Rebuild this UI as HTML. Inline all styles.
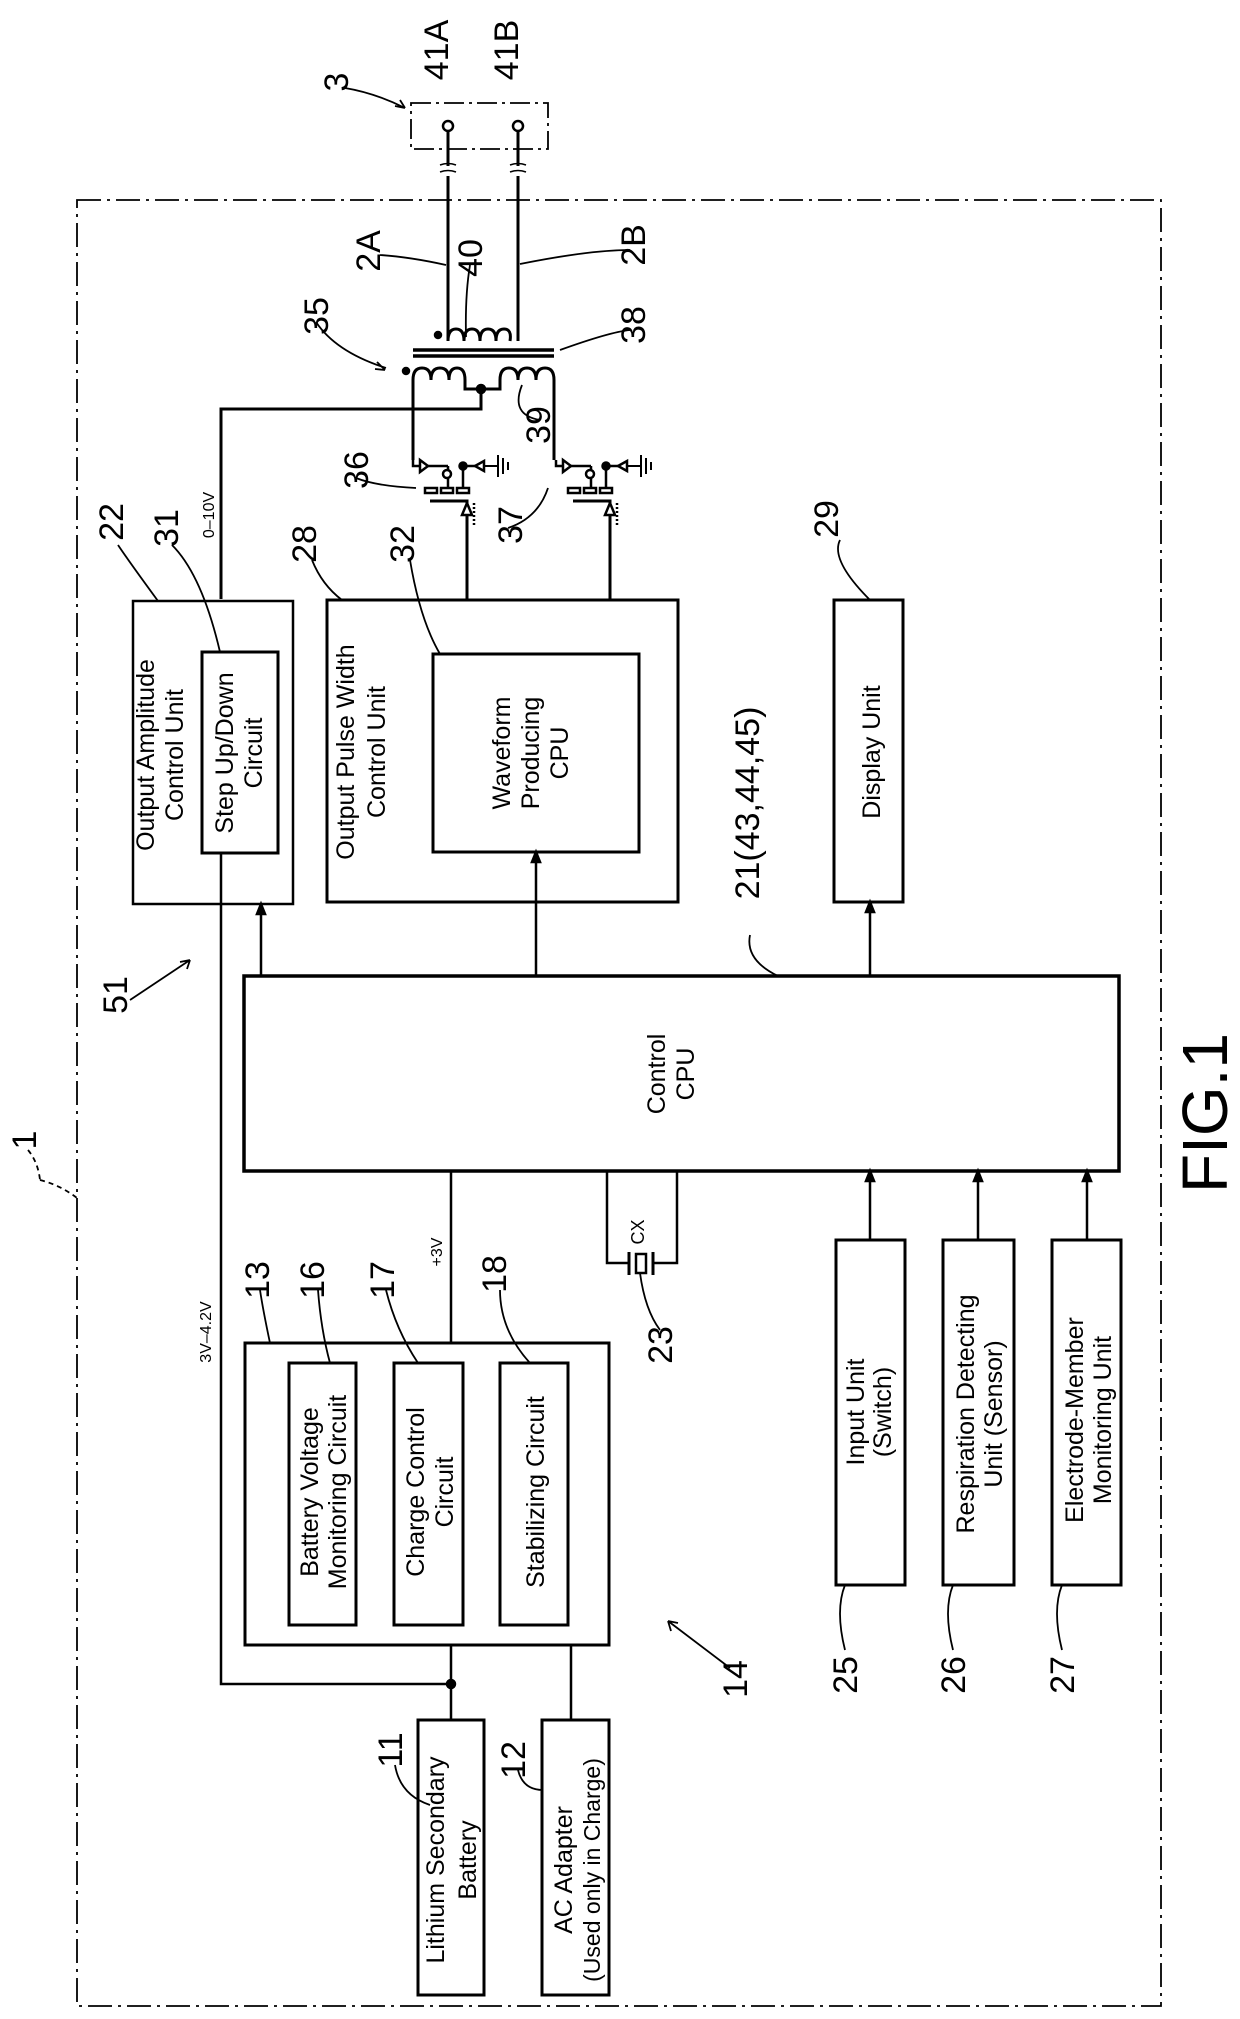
<!DOCTYPE html>
<html><head><meta charset="utf-8"><style>
html,body{margin:0;padding:0;background:#fff}
svg{display:block}
text{font-family:"Liberation Sans",sans-serif;fill:#000}
</style></head><body>
<svg width="1240" height="2019" viewBox="0 0 1240 2019" xmlns="http://www.w3.org/2000/svg">
<g fill="none" stroke="#000" stroke-width="2.5">
<rect x="77" y="200" width="1084" height="1806" stroke-dasharray="24,6,3,6" stroke-width="1.8"/>
<rect x="411" y="103" width="137" height="46" stroke-dasharray="20,5,3,5" stroke-width="1.8"/>
<path d="M345 88q30 5 60 20M405 108l-10-2M405 108l-5-8" stroke-width="1.8"/>
<circle cx="448" cy="126" r="5" fill="#fff"/>
<circle cx="518" cy="126" r="5" fill="#fff"/>
<path d="M448 131V166M448 176V341M518 131V166M518 176V341" stroke-width="3"/>
<path d="M440 165q8 -3 16 0M440 172q8 -3 16 0M510 165q8 -3 16 0M510 172q8 -3 16 0" stroke-width="1.5"/>
<path d="M448 341q0 -12 8 -12 8 0 8 12 0-12 8-12 8 0 8 12 0-12 8-12 8 0 8 12 0-12 8-12 8 0 6 12" stroke-width="3"/>
<line x1="413" y1="350" x2="554" y2="350" stroke-width="3.5"/>
<line x1="413" y1="356" x2="554" y2="356" stroke-width="3.5"/>
<path d="M413 460V380q0-12 9-12 9 0 9 12 0-12 9-12 9 0 9 12 0-12 8-12 8 0 8 12V389H500V380q0-12 9-12 9 0 9 12 0-12 9-12 9 0 9 12 0-12 9-12 9 0 9 12V460" stroke-width="3"/>
<path d="M481 389V409H221V599" stroke-width="3"/>
<circle cx="481" cy="389" r="4" fill="#000"/>
<circle cx="406" cy="371" r="3" fill="#000"/>
<circle cx="438" cy="335" r="3" fill="#000"/>
<g id="tr">
<path d="M413 460V466H448"/>
<path d="M420 460l8 6-8 6z" fill="#fff"/>
<path d="M448 466V488M463 466V488"/>
<circle cx="447" cy="474" r="4" fill="#fff"/>
<circle cx="463" cy="466" r="3.5" fill="#000"/>
<path d="M463 466H475"/>
<path d="M475 466l9-5v10z" fill="#fff"/>
<path d="M484 466H498M498 455V477M503 458V474M508 462V470" stroke-width="2"/>
<rect x="425" y="488" width="12" height="5" fill="#fff"/>
<rect x="441" y="488" width="12" height="5" fill="#fff"/>
<rect x="457" y="488" width="12" height="5" fill="#fff"/>
<path d="M430 501H467V599" stroke-width="3"/>
<path d="M467 503l-5 12h10z" fill="#fff"/>
<path d="M474 503V525" stroke-dasharray="2,2"/>
</g>
<use href="#tr" transform="translate(143,0)"/>
<g stroke-width="1.8">
<path d="M316 322q20 30 70 46M385 370l-8-8M385 370l-10-1"/>
<path d="M380 255q30 2 66 10M470 265q-5 30-4 72M630 250q-40 0-110 14M630 330q-20 2-70 20M540 420q-30 -5-18-35M356 478q20 8 60 10M508 528q30-10 40-40"/>
</g>
<rect x="133" y="601" width="160" height="303"/>
<rect x="202" y="652" width="76" height="201" stroke-width="3"/>
<path d="M221 853V1684H451"/>
<path d="M261 976V904"/>
<path d="M261 904l-4 10h8z" fill="#000"/>
<rect x="327" y="600" width="351" height="302" stroke-width="3"/>
<rect x="433" y="654" width="206" height="198" stroke-width="3"/>
<path d="M536 976V852"/><path d="M536 852l-4 10h8z" fill="#000"/>
<rect x="834" y="600" width="69" height="302" stroke-width="3"/>
<path d="M870 976V902"/><path d="M870 902l-4 10h8z" fill="#000"/>
<rect x="244" y="976" width="875" height="195" stroke-width="3.5"/>
<path d="M607 1171V1263H629M677 1171V1263H653"/>
<path d="M629 1252V1275M653 1252V1275" stroke-width="3"/>
<rect x="636" y="1254" width="10" height="19"/>
<path d="M451 1171V1343"/>
<rect x="245" y="1343" width="364" height="302" stroke-width="3"/>
<rect x="289" y="1363" width="67" height="262" stroke-width="3"/>
<rect x="394" y="1363" width="69" height="262" stroke-width="3"/>
<rect x="500" y="1363" width="68" height="262" stroke-width="3"/>
<path d="M451 1645V1720M571 1645V1720"/>
<circle cx="451" cy="1684" r="4" fill="#000"/>
<rect x="418" y="1720" width="66" height="275" stroke-width="3"/>
<rect x="542" y="1720" width="67" height="275" stroke-width="3"/>
<rect x="836" y="1240" width="69" height="345" stroke-width="3"/>
<rect x="943" y="1240" width="71" height="345" stroke-width="3"/>
<rect x="1052" y="1240" width="69" height="345" stroke-width="3"/>
<path d="M870 1240V1171M978 1240V1171M1087 1240V1171"/>
<path d="M870 1171l-4 10h8zM978 1171l-4 10h8zM1087 1171l-4 10h8z" fill="#000"/>
<g stroke-width="1.8">
<path d="M118 545q10 15 40 56M172 545q30 30 48 107M312 560q10 25 30 40M410 560q10 60 30 94M840 540q-10 20 30 60M750 935q-5 25 28 41M260 1290q3 20 10 53M318 1290q3 40 12 73M386 1290q10 40 32 73M500 1290q0 40 30 73M660 1330q-15-20-20-57M395 1765q5 30 35 40M518 1770q5 20 25 20M845 1650q-10-40 0-65M953 1650q-10-40 0-65M1062 1650q-10-40 0-65"/>
<path d="M28 1150q10 12 12 30 M40 1180q20 5 37 18" stroke-dasharray="5,4"/>
<path d="M130 1000l60-40M190 960l-10 2M190 960l-3 9M730 1668l-62-47M668 1621l3 10M668 1621l10 2"/>
</g>
</g>
<g font-size="25">
<text transform="translate(154,755) rotate(-90)" text-anchor="middle">Output Amplitude</text>
<text transform="translate(183,755) rotate(-90)" text-anchor="middle">Control Unit</text>
<text transform="translate(233,753) rotate(-90)" text-anchor="middle">Step Up/Down</text>
<text transform="translate(262,753) rotate(-90)" text-anchor="middle">Circuit</text>
<text transform="translate(354,752) rotate(-90)" text-anchor="middle">Output Pulse Width</text>
<text transform="translate(385,752) rotate(-90)" text-anchor="middle">Control Unit</text>
<text transform="translate(510,753) rotate(-90)" text-anchor="middle">Waveform</text>
<text transform="translate(539,753) rotate(-90)" text-anchor="middle">Producing</text>
<text transform="translate(568,753) rotate(-90)" text-anchor="middle">CPU</text>
<text transform="translate(880,752) rotate(-90)" text-anchor="middle">Display Unit</text>
<text transform="translate(665,1074) rotate(-90)" text-anchor="middle">Control</text>
<text transform="translate(694,1074) rotate(-90)" text-anchor="middle">CPU</text>
<text transform="translate(318,1492) rotate(-90)" text-anchor="middle">Battery Voltage</text>
<text transform="translate(346,1492) rotate(-90)" text-anchor="middle">Monitoring Circuit</text>
<text transform="translate(424,1492) rotate(-90)" text-anchor="middle">Charge Control</text>
<text transform="translate(453,1492) rotate(-90)" text-anchor="middle">Circuit</text>
<text transform="translate(544,1492) rotate(-90)" text-anchor="middle">Stabilizing Circuit</text>
<text transform="translate(444,1860) rotate(-90)" text-anchor="middle">Lithium Secondary</text>
<text transform="translate(476,1860) rotate(-90)" text-anchor="middle">Battery</text>
<text transform="translate(572,1870) rotate(-90)" text-anchor="middle">AC Adapter</text>
<text transform="translate(600,1870) rotate(-90)" text-anchor="middle" font-size="23">(Used only in Charge)</text>
<text transform="translate(864,1412) rotate(-90)" text-anchor="middle">Input  Unit</text>
<text transform="translate(891,1412) rotate(-90)" text-anchor="middle">(Switch)</text>
<text transform="translate(974,1414) rotate(-90)" text-anchor="middle">Respiration Detecting</text>
<text transform="translate(1002,1414) rotate(-90)" text-anchor="middle">Unit (Sensor)</text>
<text transform="translate(1083,1420) rotate(-90)" text-anchor="middle">Electrode-Member</text>
<text transform="translate(1111,1420) rotate(-90)" text-anchor="middle">Monitoring Unit</text>
</g>
<g font-size="16">
<text transform="translate(214,515) rotate(-90)" text-anchor="middle">0–10V</text>
<text transform="translate(211,1332) rotate(-90)" text-anchor="middle">3V–4.2V</text>
<text transform="translate(442,1252) rotate(-90)" text-anchor="middle">+3V</text>
<text transform="translate(644,1232) rotate(-90)" text-anchor="middle" font-size="18">CX</text>
</g>
<g font-size="34">
<text transform="translate(448,50) rotate(-90)" text-anchor="middle">41A</text>
<text transform="translate(518,50) rotate(-90)" text-anchor="middle">41B</text>
<text transform="translate(348,82) rotate(-90)" text-anchor="middle">3</text>
<text transform="translate(380,251) rotate(-90)" text-anchor="middle">2A</text>
<text transform="translate(482,258) rotate(-90)" text-anchor="middle">40</text>
<text transform="translate(645,245) rotate(-90)" text-anchor="middle">2B</text>
<text transform="translate(328,316) rotate(-90)" text-anchor="middle">35</text>
<text transform="translate(645,325) rotate(-90)" text-anchor="middle">38</text>
<text transform="translate(550,425) rotate(-90)" text-anchor="middle">39</text>
<text transform="translate(368,470) rotate(-90)" text-anchor="middle">36</text>
<text transform="translate(522,525) rotate(-90)" text-anchor="middle">37</text>
<text transform="translate(123,522) rotate(-90)" text-anchor="middle">22</text>
<text transform="translate(178,528) rotate(-90)" text-anchor="middle">31</text>
<text transform="translate(316,544) rotate(-90)" text-anchor="middle">28</text>
<text transform="translate(414,544) rotate(-90)" text-anchor="middle">32</text>
<text transform="translate(838,519) rotate(-90)" text-anchor="middle">29</text>
<text transform="translate(759,803) rotate(-90)" text-anchor="middle">21(43,44,45)</text>
<text transform="translate(127,995) rotate(-90)" text-anchor="middle">51</text>
<text transform="translate(36,1140) rotate(-90)" text-anchor="middle">1</text>
<text transform="translate(269,1280) rotate(-90)" text-anchor="middle">13</text>
<text transform="translate(324,1280) rotate(-90)" text-anchor="middle">16</text>
<text transform="translate(394,1280) rotate(-90)" text-anchor="middle">17</text>
<text transform="translate(506,1274) rotate(-90)" text-anchor="middle">18</text>
<text transform="translate(672,1345) rotate(-90)" text-anchor="middle">23</text>
<text transform="translate(747,1679) rotate(-90)" text-anchor="middle">14</text>
<text transform="translate(857,1675) rotate(-90)" text-anchor="middle">25</text>
<text transform="translate(965,1675) rotate(-90)" text-anchor="middle">26</text>
<text transform="translate(1074,1675) rotate(-90)" text-anchor="middle">27</text>
<text transform="translate(402,1750) rotate(-90)" text-anchor="middle">11</text>
<text transform="translate(525,1760) rotate(-90)" text-anchor="middle">12</text>
</g>
<text transform="translate(1227,1113) rotate(-90)" text-anchor="middle" font-size="64">FIG.1</text>
</svg>
</body></html>
